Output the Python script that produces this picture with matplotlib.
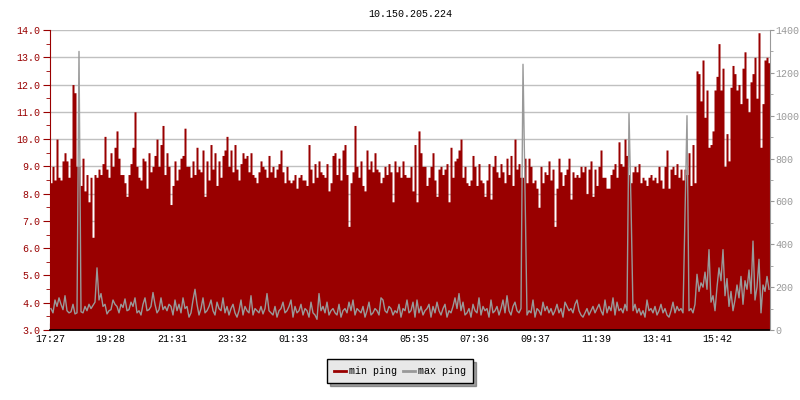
import numpy as np
import matplotlib
matplotlib.use("Agg")
import matplotlib.pyplot as plt
from matplotlib.ticker import MultipleLocator, FormatStrFormatter

plt.rcParams['font.family'] = ['Liberation Mono', 'DejaVu Sans Mono']

title = "10.150.205.224"
start_label = "17:27"
step_minutes = 4
tick_labels = ["17:27", "19:28", "21:31", "23:32", "01:33", "03:34",
               "05:35", "07:36", "09:37", "11:39", "13:41", "15:42"]

# min ping (left axis), 4 minute samples, six 4-hour blocks
min_ping = [
    8.4, 9.0, 8.5, 10.0, 8.6, 8.5, 9.2, 9.5, 9.2, 8.6, 9.3, 12.0, 11.7, 9.0, 9.0,
    8.3, 9.3, 8.1, 8.7, 7.7, 8.6, 6.4, 8.7, 8.6, 8.9, 8.7, 9.1, 10.1, 8.9, 8.6,
    9.5, 9.0, 9.7, 10.3, 9.3, 8.7, 8.7, 8.4, 7.9, 8.7, 9.1, 9.7, 11.0, 9.0, 8.6,
    8.5, 9.3, 9.2, 8.2, 9.5, 8.8, 9.0, 9.4, 10.0, 9.0, 9.8, 10.5, 8.7, 9.5, 9.0,

    7.6, 8.3, 9.2, 8.5, 8.9, 9.3, 9.4, 10.4, 9.0, 9.0, 8.6, 9.2, 8.7, 9.7, 8.9,
    8.8, 9.6, 7.9, 9.2, 8.5, 9.8, 8.9, 9.5, 8.3, 9.2, 8.6, 9.4, 9.6, 10.1, 9.0,
    9.6, 8.8, 9.8, 8.9, 8.5, 9.1, 9.5, 9.3, 9.4, 8.8, 9.5, 8.7, 8.6, 8.4, 8.8,
    9.2, 9.0, 8.9, 8.6, 9.4, 8.8, 9.0, 8.6, 8.9, 9.1, 9.6, 8.8, 8.4, 9.0, 8.5,

    8.4, 8.5, 8.7, 8.2, 8.6, 8.7, 8.5, 8.5, 8.3, 9.8, 8.9, 8.4, 9.1, 8.6, 9.2,
    8.8, 8.7, 8.6, 9.1, 8.1, 8.4, 9.4, 9.5, 8.7, 9.3, 8.5, 9.6, 9.8, 8.7, 6.8,
    8.4, 8.8, 10.5, 9.0, 8.6, 9.2, 8.3, 8.1, 9.6, 8.9, 9.2, 8.8, 9.5, 8.9, 8.8,
    8.4, 8.6, 9.0, 8.7, 9.1, 8.8, 7.7, 9.2, 8.8, 9.0, 8.6, 9.2, 8.7, 8.6, 8.6,

    9.0, 8.1, 9.8, 7.7, 10.3, 9.5, 9.0, 9.0, 8.3, 8.6, 9.0, 9.5, 8.5, 7.9, 8.9,
    9.0, 8.7, 8.9, 9.1, 7.7, 9.7, 8.6, 9.2, 9.3, 9.6, 10.0, 8.6, 9.0, 8.4, 8.3,
    8.5, 9.4, 9.0, 8.3, 9.1, 8.5, 8.4, 7.9, 8.5, 9.1, 7.8, 9.0, 9.4, 8.8, 8.6,
    9.1, 8.8, 8.4, 9.3, 8.7, 9.4, 8.3, 10.0, 8.9, 9.1, 8.6, 8.6, 9.3, 8.4, 9.3,

    9.0, 8.4, 8.5, 8.2, 7.5, 9.0, 8.4, 8.8, 8.7, 9.2, 8.5, 8.9, 6.8, 8.2, 9.3,
    8.8, 8.3, 8.7, 8.9, 9.3, 7.8, 8.8, 8.6, 8.7, 8.6, 9.0, 8.8, 9.0, 8.0, 8.9,
    9.2, 7.9, 8.9, 8.3, 9.0, 9.6, 8.6, 8.6, 8.2, 8.2, 8.7, 8.9, 9.1, 8.6, 9.9,
    9.1, 9.0, 10.0, 9.4, 8.7, 8.4, 8.8, 9.0, 8.8, 9.1, 8.4, 8.6, 8.5, 8.3, 8.6,

    8.7, 8.5, 8.6, 8.4, 9.0, 8.5, 8.2, 9.0, 9.6, 8.2, 8.9, 9.0, 8.7, 9.1, 8.6,
    8.9, 8.5, 8.9, 8.7, 9.5, 8.3, 9.8, 8.4, 12.5, 12.4, 11.4, 12.9, 10.8, 11.8, 9.7,
    9.8, 10.3, 11.8, 12.3, 13.5, 11.8, 12.6, 9.0, 10.2, 9.2, 11.9, 12.7, 12.4, 11.8, 12.0,
    11.3, 12.6, 13.2, 11.5, 11.0, 12.1, 12.4, 13.0, 11.5, 13.9, 9.7, 11.3, 12.9, 13.0, 12.8,
]

# max ping (right axis)
max_ping = [
    100, 80, 140, 110, 150, 120, 95, 160, 90, 80, 85, 120, 75, 80, 1300,
    85, 80, 110, 90, 120, 100, 115, 130, 290, 140, 170, 110, 120, 75, 90,
    95, 140, 120, 110, 80, 120, 105, 145, 90, 95, 130, 110, 150, 80, 90,
    70, 120, 150, 90, 95, 110, 175, 120, 80, 95, 150, 95, 110, 90, 120,

    110, 70, 140, 90, 120, 80, 150, 100, 110, 60, 80, 140, 190, 120, 70,
    100, 150, 80, 90, 110, 140, 90, 70, 130, 100, 90, 150, 80, 110, 70,
    100, 120, 80, 60, 90, 140, 70, 110, 90, 80, 160, 70, 100, 90, 80,
    110, 75, 100, 170, 90, 80, 70, 110, 60, 90, 100, 130, 80, 90, 110,

    140, 60, 110, 80, 90, 120, 70, 100, 90, 60, 130, 80, 70, 50, 170,
    90, 110, 80, 130, 70, 90, 100, 80, 70, 120, 60, 90, 100, 80, 130,
    90, 140, 70, 100, 90, 80, 110, 60, 90, 130, 70, 80, 100, 90, 70,
    150, 140, 90, 80, 110, 100, 70, 90, 80, 120, 60, 100, 90, 140, 80,

    90, 130, 60, 140, 80, 110, 70, 90, 100, 120, 60, 110, 80, 130, 90,
    70, 100, 120, 60, 90, 80, 110, 150, 100, 170, 90, 130, 70, 80, 100,
    60, 120, 90, 80, 150, 70, 110, 90, 100, 60, 140, 80, 90, 110, 70,
    100, 140, 80, 160, 90, 70, 110, 130, 90, 80, 100, 1240, 650, 70, 90,

    80, 140, 60, 100, 90, 70, 130, 90, 110, 80, 100, 70, 90, 120, 80,
    100, 60, 130, 110, 90, 100, 80, 120, 140, 90, 70, 60, 80, 100, 70,
    90, 110, 80, 100, 120, 90, 70, 140, 80, 110, 90, 150, 70, 130, 90,
    100, 80, 120, 90, 1010, 590, 90, 120, 80, 100, 70, 90, 60, 140, 90,

    100, 80, 110, 70, 90, 120, 80, 100, 70, 60, 90, 130, 80, 110, 90,
    100, 80, 547, 1000, 90, 100, 80, 120, 260, 180, 220, 200, 270, 190, 375,
    130, 160, 90, 200, 290, 230, 375, 160, 240, 110, 180, 90, 140, 210, 150,
    250, 120, 230, 190, 280, 170, 415, 140, 200, 330, 80, 210, 180, 250, 190,
]

RED = '#990000'
GREY = '#999999'
FS = 7.2


def minutes_since_start(label):
    h, m = map(int, label.split(':'))
    h0, m0 = map(int, start_label.split(':'))
    return ((h * 60 + m) - (h0 * 60 + m0)) % 1440


# time axis in minutes from the first sample, one extra edge for the last step
t = np.arange(len(min_ping) + 1) * step_minutes
y_min = np.append(min_ping, min_ping[-1])
t_max = np.arange(len(max_ping)) * step_minutes + step_minutes / 2

fig = plt.figure(figsize=(8, 4), dpi=100)
ax = fig.add_axes([50 / 800, 70 / 400, 720 / 800, 300 / 400])
ax2 = ax.twinx()

ax.fill_between(t, 3, y_min, step='post', color=RED, lw=0, zorder=2)
ax2.plot(t_max, max_ping, color=GREY, lw=1)

ax.set_xlim(0, t[-1])
ax.set_ylim(3, 14)
ax2.set_ylim(0, 1400)

# left axis
ax.yaxis.set_major_locator(MultipleLocator(1))
ax.yaxis.set_minor_locator(MultipleLocator(0.5))
ax.yaxis.set_major_formatter(FormatStrFormatter('%.1f'))
ax.tick_params(axis='y', which='both', colors=RED, labelsize=FS,
               direction='out', pad=2)
ax.tick_params(axis='y', which='major', length=5)
ax.tick_params(axis='y', which='minor', length=3)
ax.grid(axis='y', color='#c0c0c0', lw=1, zorder=0)
ax.set_axisbelow(True)

# right axis
ax2.yaxis.set_major_locator(MultipleLocator(200))
ax2.yaxis.set_minor_locator(MultipleLocator(100))
ax2.tick_params(axis='y', which='both', colors=GREY, labelsize=FS,
                direction='out', pad=1)
ax2.tick_params(axis='y', which='major', length=3)
ax2.tick_params(axis='y', which='minor', length=2)

# bottom axis
ax.set_xticks([minutes_since_start(s) for s in tick_labels])
ax.set_xticklabels(tick_labels)
ax.tick_params(axis='x', direction='in', length=5, color='black',
               labelsize=FS, pad=3)

for a in (ax, ax2):
    a.spines['top'].set_visible(False)
    a.spines['left'].set_color(RED)
    a.spines['right'].set_color(GREY)
    a.spines['bottom'].set_color('black')
    a.spines['bottom'].set_linewidth(1.2)
ax.spines['right'].set_visible(False)
ax2.spines['left'].set_visible(False)
ax2.spines['bottom'].set_visible(False)

fig.text(410 / 800, 1 - 14 / 400, title, ha='center', va='center', fontsize=FS)

h1 = plt.Line2D([], [], color=RED, lw=2)
h2 = plt.Line2D([], [], color=GREY, lw=2)
fig.legend([h1, h2], ['min ping', 'max ping'], loc='center',
           bbox_to_anchor=(400 / 800, 1 - 371 / 400), ncol=2, fontsize=FS,
           frameon=True, fancybox=False, shadow=True, edgecolor='black',
           facecolor='#e8e8e8', framealpha=1, handlelength=1.2,
           handletextpad=0.3, columnspacing=0.6, borderpad=0.7)

fig.savefig('out.png', dpi=100)
